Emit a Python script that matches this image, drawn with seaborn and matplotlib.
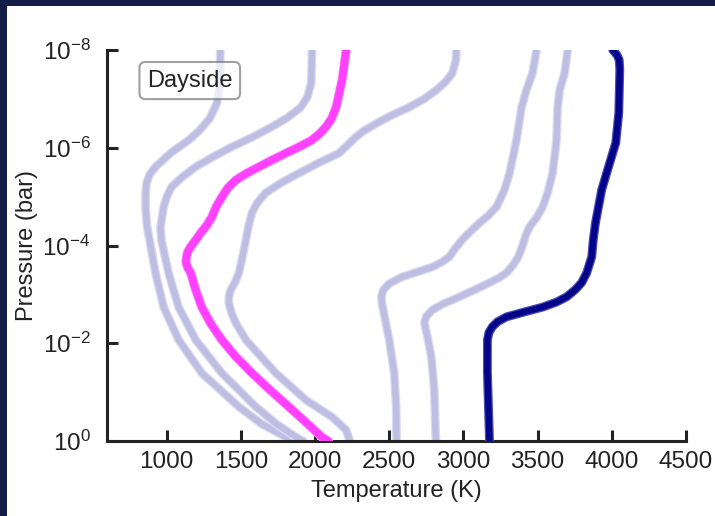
import numpy as np
import pandas as pd
import seaborn as sns
import matplotlib.pyplot as plt
import matplotlib.patheffects as pe
from matplotlib.patches import Rectangle

# log10 pressure (bar) and temperature (K), one pair per curve
logp_a = [-8.0, -7.3, -6.92, -6.6, -6.35, -6.16, -5.9, -5.61, -5.45, -5.28, -5.05, -4.79, -4.4, -4.11, -3.44,
          -2.74, -2.07, -1.39, -0.70, -0.35, -0.08, 0.0]
temp_a = [1362, 1358, 1340, 1290, 1220, 1150, 1030, 925, 885, 865, 858, 858, 868, 885, 925,
          980, 1081, 1237, 1487, 1640, 1804, 1850]

logp_b = [-8.0, -7.33, -7.05, -6.83, -6.63, -6.43, -6.22, -6.02, -5.81, -5.61, -5.40, -5.20, -4.99, -4.79,
          -4.38, -4.11, -3.44, -2.74, -2.07, -1.39, -0.70, -0.35, -0.08, 0.0]
temp_b = [1980, 1975, 1950, 1905, 1820, 1710, 1580, 1440, 1310, 1196, 1105, 1034, 1000, 980,
          959, 965, 1013, 1081, 1196, 1372, 1601, 1740, 1872, 1920]

logp_c = [-8.0, -7.8, -7.53, -7.35, -7.18, -7.0, -6.83, -6.67, -6.51, -6.35, -6.22, -6.1, -6.0, -5.89, -5.7,
          -5.48, -5.28, -5.08, -4.87, -4.67, -4.4, -4.11, -3.75, -3.44, -3.25, -3.09, -2.95,
          -2.83, -2.62, -2.42, -2.07, -1.39, -0.84, -0.49, -0.23, 0.0]
temp_c = [2953, 2950, 2926, 2880, 2818, 2735, 2635, 2520, 2420, 2330, 2275, 2235, 2200, 2162, 2030,
          1892, 1770, 1669, 1610, 1575, 1552, 1534, 1510, 1487, 1462, 1432, 1420,
          1419, 1437, 1466, 1534, 1736, 1939, 2115, 2209, 2235]

logp_d = [-8.0, -7.53, -7.18, -6.83, -6.16, -5.48, -5.14, -4.79, -4.62, -4.46, -4.28, -4.11, -3.94, -3.77,
          -3.66, -3.56, -3.46, -3.36, -3.22, -3.09, -2.96, -2.83, -2.45, -2.07, -1.39, -0.70, 0.0]
temp_d = [3493, 3466, 3425, 3392, 3358, 3311, 3277, 3223, 3170, 3108, 3045, 2990, 2945, 2905,
          2855, 2790, 2690, 2588, 2500, 2460, 2448, 2450, 2475, 2500, 2534, 2547, 2550]

logp_e = [-8.0, -7.53, -7.18, -6.83, -6.16, -5.48, -5.1, -4.79, -4.58, -4.38, -4.22, -4.11, -3.94, -3.77, -3.6,
          -3.44, -3.34, -3.24, -3.1, -2.95, -2.8, -2.68, -2.55, -2.42, -2.1, -1.72, -1.05, -0.29, 0.0]
temp_e = [3703, 3682, 3649, 3635, 3628, 3601, 3570, 3534, 3495, 3446, 3422, 3410, 3392, 3370, 3335,
          3290, 3240, 3176, 3080, 2973, 2860, 2790, 2750, 2737, 2760, 2784, 2804, 2811, 2815]

logp_day = [-8.0, -7.39, -6.83, -6.6, -6.43, -6.3, -6.16, -6.03, -5.89, -5.75, -5.61, -5.48, -5.34, -5.17,
            -4.99, -4.8, -4.58, -4.42, -4.26, -4.15, -4.05, -3.95, -3.87, -3.76, -3.66, -3.55,
            -3.44, -3.1, -2.74, -2.4, -2.07, -1.73, -1.39, -1.05, -0.70, -0.38, -0.08, 0.0]
temp_day = [2210, 2183, 2142, 2112, 2074, 2035, 1980, 1900, 1804, 1710, 1622, 1540, 1466, 1410,
            1372, 1335, 1304, 1272, 1230, 1205, 1180, 1157, 1142, 1133, 1130, 1142,
            1162, 1195, 1237, 1298, 1372, 1465, 1575, 1695, 1824, 1940, 2047, 2090]

logp_hot = [-8.0, -7.9, -7.8, -7.6, -6.71, -6.10, -5.69, -5.14, -4.46, -4.11, -3.77, -3.44, -3.24, -3.1,
            -2.95, -2.84, -2.74, -2.64, -2.54, -2.44, -2.34, -2.22, -2.07, -1.39, 0.0]
temp_hot = [4007, 4035, 4050, 4054, 4047, 4027, 3986, 3932, 3890, 3875, 3865, 3831, 3797, 3755,
            3696, 3625, 3534, 3410, 3290, 3230, 3196, 3172, 3162, 3162, 3176]

x_ticks = [1000, 1500, 2000, 2500, 3000, 3500, 4000, 4500]
y_ticks = [1e-8, 1e-6, 1e-4, 1e-2, 1e0]
y_labels = [r'$\mathregular{10^{-8}}$', r'$\mathregular{10^{-6}}$', r'$\mathregular{10^{-4}}$',
            r'$\mathregular{10^{-2}}$', r'$\mathregular{10^{0}}$']

LAVENDER = '#bebee3'
LAVENDER_GLOW = '#dcdcf1'
MAGENTA = '#ff40ff'
NAVY = '#040488'


def curve_df(logp, temp):
    return pd.DataFrame({'T': temp, 'P': 10.0 ** np.array(logp)})


sns.set_style('ticks')
plt.rcParams['font.family'] = ['Liberation Sans', 'DejaVu Sans']
plt.rcParams['mathtext.fontset'] = 'custom'
plt.rcParams['mathtext.rm'] = 'Liberation Sans'

fig = plt.figure(figsize=(7.15, 5.16), dpi=100, facecolor='#131d48')
fig.patches.append(Rectangle((7 / 715, 0), 1, 1 - 6 / 516, transform=fig.transFigure,
                             facecolor='white', edgecolor='none', zorder=-10))
ax = fig.add_axes([0.150, 0.1453, 0.8094, 0.7577])
ax.set_facecolor('none')

line_kw = dict(sort=False, estimator=None, solid_capstyle='round', solid_joinstyle='round', ax=ax)

for lp, tt in [(logp_a, temp_a), (logp_b, temp_b), (logp_c, temp_c), (logp_d, temp_d), (logp_e, temp_e)]:
    sns.lineplot(data=curve_df(lp, tt), x='T', y='P', color=LAVENDER, linewidth=4.6, zorder=2,
                 path_effects=[pe.Stroke(linewidth=6.4, foreground=LAVENDER_GLOW), pe.Normal()],
                 **line_kw)

sns.lineplot(data=curve_df(logp_day, temp_day), x='T', y='P', color=MAGENTA, linewidth=5.4, zorder=3,
             path_effects=[pe.Stroke(linewidth=6.6, foreground='#ff90ff'), pe.Normal()],
             **line_kw)
sns.lineplot(data=curve_df(logp_hot, temp_hot), x='T', y='P', color=NAVY, linewidth=4.6, zorder=3,
             path_effects=[pe.Stroke(linewidth=6.4, foreground='#4a4ab8'), pe.Normal()],
             **line_kw)

ax.set_yscale('log')
ax.set_ylim(1e0, 1e-8)
ax.set_xlim(600, 4500)
ax.set_xticks(x_ticks)
ax.set_yticks(y_ticks)
ax.set_yticklabels(y_labels)
ax.minorticks_off()

sns.despine(ax=ax)
for side in ['left', 'bottom']:
    ax.spines[side].set_linewidth(2.2)
    ax.spines[side].set_color('#222222')
ax.tick_params(axis='both', direction='in', length=8, width=2.2, color='#222222',
               labelsize=17.5, labelcolor='#222222')
ax.tick_params(axis='y', pad=12)
ax.tick_params(axis='x', pad=7)

ax.set_xlabel('Temperature (K)', fontsize=17, color='#222222', labelpad=5)
ax.set_ylabel('Pressure (bar)', fontsize=17, color='#222222', labelpad=3)

ax.text(0.1426, 0.922, 'Dayside', transform=ax.transAxes, ha='center', va='center',
        fontsize=17, color='#222222', zorder=5,
        bbox=dict(boxstyle='round,pad=0.32,rounding_size=0.25', facecolor='white', alpha=0.7,
                  edgecolor='#777777', linewidth=1.5))

fig.savefig('out.png', dpi=100, facecolor=fig.get_facecolor())
